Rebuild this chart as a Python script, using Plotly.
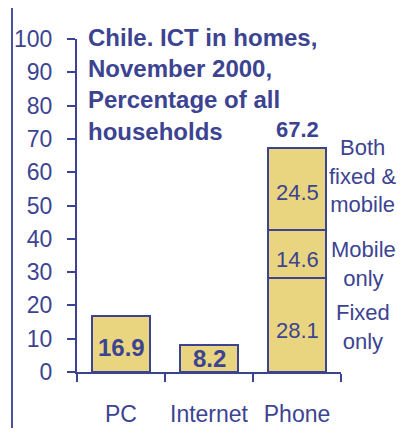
import plotly.graph_objects as go

categories = ["PC", "Internet", "Phone"]
pc_internet_values = [16.9, 8.2]
phone_fixed_only = 28.1
phone_mobile_only = 14.6
phone_both = 24.5
phone_total = 67.2
y_tick_values = [0, 10, 20, 30, 40, 50, 60, 70, 80, 90, 100]
segment_labels = ["Fixed<br>only", "Mobile<br>only", "Both<br>fixed &<br>mobile"]
title_text = "Chile. ICT in homes,<br>November 2000,<br>Percentage of all<br>households"

NAVY = "#3C4492"
FILL = "#E9D57F"
FONT = "Liberation Sans, Arial, sans-serif"

# page body has an 8px margin; compensate (and avoid page overflow)
OFF = 8
W, H = 406 - OFF, 436 - 2 * OFF
L, R, T, B = 77 - OFF, 341 - OFF, 39 - OFF, 372 - OFF


def px(x):
    return (x - OFF - L) / (R - L)


def py(y):
    return (B - (y - OFF)) / (B - T)


fig = go.Figure()
bar_line = dict(color=NAVY, width=2)
bw = 0.67
fig.add_trace(go.Bar(x=categories, y=pc_internet_values + [phone_fixed_only],
                     marker=dict(color=FILL, line=bar_line), width=bw, hoverinfo="skip"))
fig.add_trace(go.Bar(x=[categories[2]], y=[phone_mobile_only],
                     marker=dict(color=FILL, line=bar_line), width=bw, hoverinfo="skip"))
fig.add_trace(go.Bar(x=[categories[2]], y=[phone_both],
                     marker=dict(color=FILL, line=bar_line), width=bw, hoverinfo="skip"))

ann = []
ann.append(dict(x=categories[0], y=pc_internet_values[0] / 2, yshift=-4, text="<b>%.1f</b>" % pc_internet_values[0],
                showarrow=False, font=dict(size=24, color=NAVY, family=FONT)))
ann.append(dict(x=categories[1], y=0, yanchor="bottom", yshift=-2, text="<b>%.1f</b>" % pc_internet_values[1],
                showarrow=False, font=dict(size=24, color=NAVY, family=FONT)))
segs = [phone_fixed_only, phone_mobile_only, phone_both]
shifts = [-5, -5, -3]
base = 0
for i, v in enumerate(segs):
    ann.append(dict(x=categories[2], y=base + v / 2, yshift=shifts[i], text="%.1f" % v, showarrow=False,
                    font=dict(size=22, color=NAVY, family=FONT)))
    base += v
ann.append(dict(x=categories[2], y=phone_total, yanchor="bottom", yshift=4, text="<b>%.1f</b>" % phone_total,
                showarrow=False, font=dict(size=22, color=NAVY, family=FONT)))
rshift = [-2, -10, 13]
base = 0
for i, v in enumerate(segs):
    ann.append(dict(xref="paper", x=px(363), xanchor="center", y=base + v / 2, yshift=rshift[i],
                    text=segment_labels[i], showarrow=False, align="center",
                    font=dict(size=22, color=NAVY, family=FONT)))
    base += v
ann.append(dict(xref="paper", yref="paper", x=px(86), y=py(22), xanchor="left", yanchor="top",
                text="<b>" + title_text + "</b>", align="left", showarrow=False,
                font=dict(size=24, color=NAVY, family=FONT)))

shapes = [
    dict(type="line", xref="paper", yref="paper", x0=px(12), x1=px(12), y0=py(5), y1=py(440),
         line=dict(color="#4A519E", width=2)),
    dict(type="line", xref="paper", yref="paper", x0=px(11), x1=px(410), y0=py(6), y1=py(6),
         line=dict(color="#4A519E", width=2)),
    dict(type="line", xref="paper", yref="paper", x0=px(8), x1=px(410), y0=py(2.5), y1=py(2.5),
         line=dict(color="#B8C0E8", width=1, dash="dot")),
]

fig.update_layout(
    width=W, height=H,
    margin=dict(l=L, r=W - R, t=T, b=H - B, pad=0, autoexpand=False),
    barmode="stack",
    showlegend=False,
    plot_bgcolor="white", paper_bgcolor="white",
    annotations=ann, shapes=shapes,
    font=dict(family=FONT, color=NAVY),
)
fig.update_yaxes(range=[0, 100], tickvals=y_tick_values, showgrid=False, zeroline=False,
                 showline=True, linecolor=NAVY, linewidth=2, ticks="outside", ticklen=8,
                 tickwidth=2, tickcolor=NAVY, tickfont=dict(size=23, color=NAVY, family=FONT),
                 ticklabelstandoff=10, fixedrange=True, automargin=False)
fig.update_xaxes(showgrid=False, zeroline=False, showline=True, linecolor=NAVY, linewidth=2,
                 ticks="outside", ticklen=8, tickwidth=2, tickcolor=NAVY, tickson="boundaries",
                 tickangle=0,
                 tickfont=dict(size=23, color=NAVY, family=FONT), ticklabelstandoff=20,
                 range=[-0.5, 2.5], fixedrange=True, automargin=False)

fig.write_html("out.html", config={"displayModeBar": False})
